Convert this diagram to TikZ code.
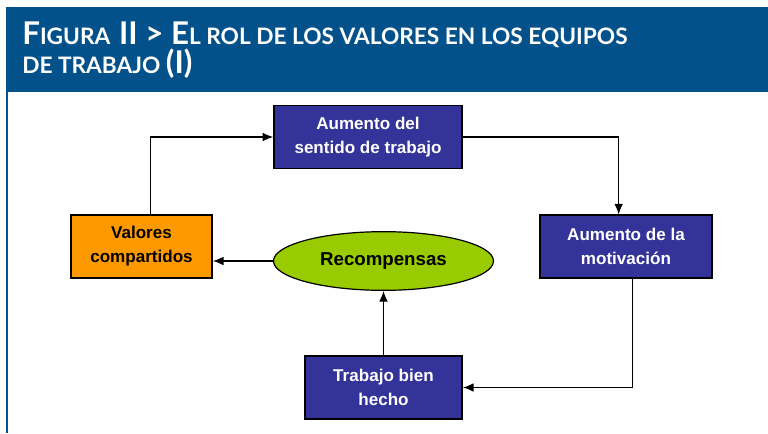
\documentclass[tikz,border=0pt]{standalone}
\usepackage{fontspec}
\setmainfont{Liberation Sans}
\newfontfamily\headfont{Lato}
\usetikzlibrary{shapes.geometric, arrows.meta}
\definecolor{headblue}{HTML}{03518A}
\definecolor{boxblue}{HTML}{333399}
\definecolor{boxorange}{HTML}{FF9900}
\definecolor{ovalgreen}{HTML}{99CC00}
\newcommand{\capbig}{\fontsize{23.5}{26}\selectfont}
\newcommand{\capsmall}{\fontsize{17}{26}\selectfont}
\tikzset{
        block/.style = {draw, rectangle, line width=1.1pt,
            fill=boxblue, text=white, align=center,
            minimum height=47pt,
            font=\fontsize{12.8}{18}\selectfont\bfseries},
        oval/.style = {draw, ellipse, line width=0.9pt,
            fill=ovalgreen, minimum width=165pt, minimum height=44pt,
            font=\fontsize{14}{18}\selectfont\bfseries},
        arrow/.style = {draw, line width=0.9pt, -{Latex[length=8pt,width=6.5pt]}},
}
\begin{document}
\begin{tikzpicture}[x=0.75pt, y=-0.75pt]
\useasboundingbox (0,0) rectangle (768,433);
% header band
\fill [headblue] (6,7) rectangle (768,92);
\draw [headblue, line width=1.5pt] (6.5,92) -- (6.5,433);
\node [anchor=base west, inner sep=0, text=white, font=\headfont\bfseries] (title1) at (22,44)
    {{\capbig F}{\capsmall IGURA\ } {\capbig II > E}{\capsmall L ROL DE LOS VALORES EN LOS EQUIPOS}};
\node [anchor=base west, inner sep=0, text=white, font=\headfont\bfseries] (title2) at (22,73)
    {{\capsmall DE TRABAJO }{\capbig (I)}};
% boxes
\node [block, minimum width=141pt] (sentido) at (368,137) {Aumento del\\sentido de trabajo};
\node [block, minimum width=129pt] (motivacion) at (626,246.5) {Aumento de la\\motivación};
\node [block, minimum width=106pt, fill=boxorange, text=black] (valores) at (141.5,246.5) {Valores\\compartidos};
\node [block, minimum width=118pt] (trabajo) at (383.5,387.5) {Trabajo bien\\hecho};
\node [oval] (recompensas) at (383.5,261) {Recompensas};
% connectors
\draw [arrow] ([xshift=6.5pt]valores.north) |- (sentido);
\draw [arrow] (sentido) -| ([xshift=-5.5pt]motivacion.north);
\draw [arrow] ([xshift=5pt]motivacion.south) |- (trabajo);
\draw [arrow] (trabajo) -- (recompensas);
\draw [arrow] (recompensas.west) -- (valores.east |- recompensas.west);
\end{tikzpicture}
\end{document}
